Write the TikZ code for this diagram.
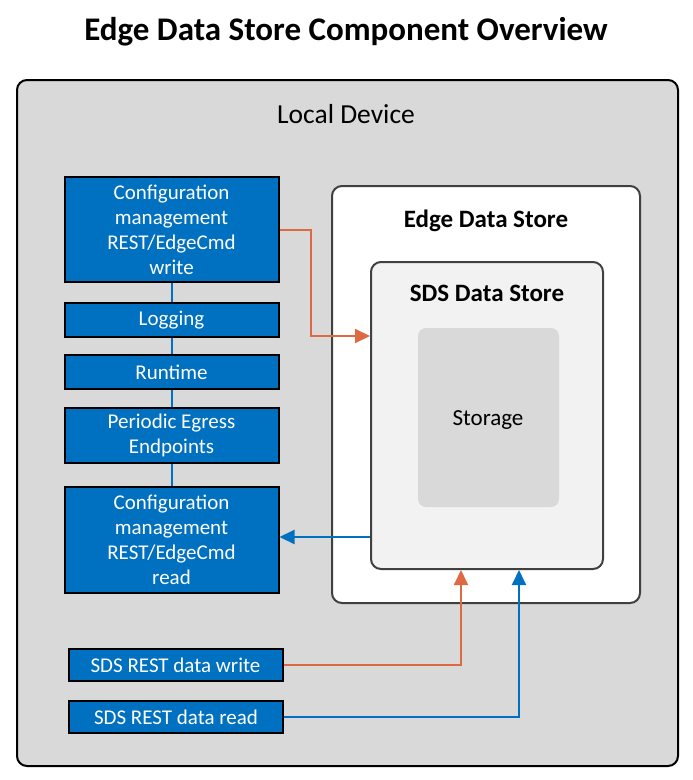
\documentclass[tikz,border=0pt]{standalone}
\usepackage{fontspec}
\setmainfont{Carlito}
\usetikzlibrary{arrows.meta}
\definecolor{boxblue}{RGB}{0,112,192}
\definecolor{wireorange}{RGB}{221,106,66}
\definecolor{devgray}{RGB}{217,217,217}
\definecolor{sdsgray}{RGB}{242,242,242}
\definecolor{rimgray}{RGB}{64,64,64}
\tikzset{
  comp/.style={draw=black,line width=2pt,fill=boxblue,text=white,align=center,
    minimum width=214pt,inner sep=0pt,font=\fontsize{21}{25}\selectfont},
  frame/.style={draw=rimgray,line width=2pt,rounded corners=10pt,inner sep=0pt},
  link/.style={draw=boxblue,line width=2pt},
  wirein/.style={draw=wireorange,line width=2pt,-{Triangle[length=15pt,width=14pt,fill=wireorange]}},
  wireout/.style={draw=boxblue,line width=2pt,-{Triangle[length=15pt,width=14pt,fill=boxblue]}}
}
\begin{document}
\begin{tikzpicture}[x=1pt,y=-1pt]
  \useasboundingbox (0,0) rectangle (693,780);
  \node[font=\fontsize{33}{38}\selectfont\bfseries] (title) at (346,32) {Edge Data Store Component Overview};
  % local device
  \node[draw=black,line width=2pt,rounded corners=10pt,fill=devgray,
        minimum width=661pt,minimum height=686pt] (dev) at (347.5,423) {};
  \node[font=\fontsize{27.5}{32}\selectfont] (devlbl) at (346,114) {Local Device};
  % edge data store
  \node[frame,fill=white,minimum width=308pt,minimum height=417pt] (eds) at (486,394.5) {};
  \node[font=\fontsize{25}{30}\selectfont\bfseries] (edslbl) at (486,221) {Edge Data Store};
  \node[frame,fill=sdsgray,minimum width=232pt,minimum height=307pt] (sds) at (487,415.5) {};
  \node[font=\fontsize{25}{30}\selectfont\bfseries] (sdslbl) at (487,293) {SDS Data Store};
  \node[fill=devgray,rounded corners=8pt,minimum width=141pt,minimum height=179pt] (store) at (488.5,417.5) {};
  \node[font=\fontsize{23}{28}\selectfont] (storelbl) at (488,420) {Storage};
  % components
  \node[comp,minimum height=105pt] (cfgw) at (171.5,229.5) {Configuration\\management\\REST/EdgeCmd\\write};
  \node[comp,minimum height=34pt] (log) at (171.5,320) {Logging};
  \node[comp,minimum height=34pt] (run) at (171.5,372) {Runtime};
  \node[comp,minimum height=55pt] (egress) at (171.5,435.5) {Periodic Egress\\Endpoints};
  \node[comp,minimum height=106pt] (cfgr) at (171.5,540) {Configuration\\management\\REST/EdgeCmd\\read};
  \node[comp,minimum height=32pt] (restw) at (175.5,665) {SDS REST data write};
  \node[comp,minimum height=32pt] (restr) at (176,717) {SDS REST data read};
  \draw[link] (cfgw) -- (log);
  \draw[link] (log) -- (run);
  \draw[link] (run) -- (egress);
  \draw[link] (egress) -- (cfgr);
  % data flow
  \draw[wirein] (cfgw.east) -- ++(31,0) |- (sds.west |- 0,336);
  \draw[wireout] (sds.west |- 0,537) -- (cfgr.east |- 0,537);
  \draw[wirein] (restw.east) -| (sds.south -| 461,0);
  \draw[wireout] (restr.east) -| (sds.south -| 519,0);
\end{tikzpicture}
\end{document}
